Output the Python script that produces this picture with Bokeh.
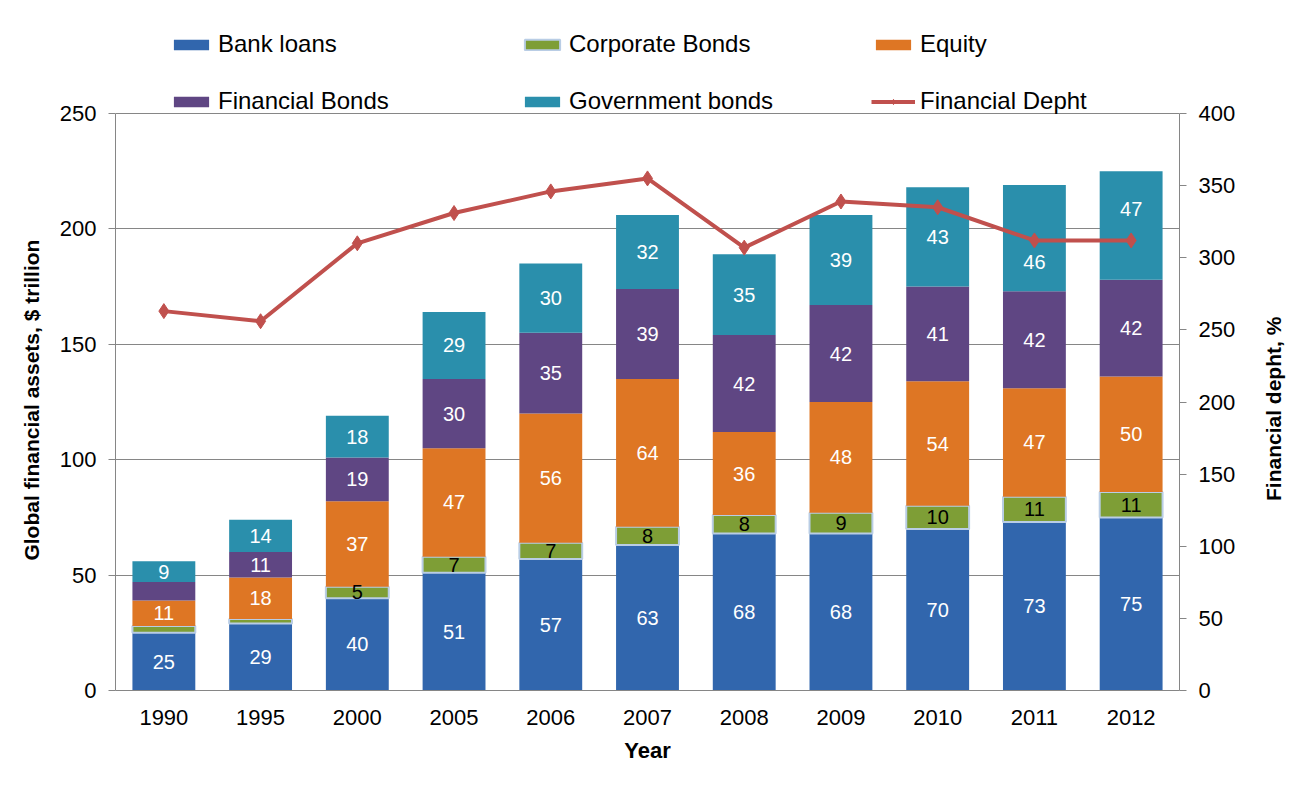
from bokeh.plotting import figure
from bokeh.layouts import row
from bokeh.models import (ColumnDataSource, Range1d, LinearAxis, Legend, LegendItem,
                          FixedTicker, FactorRange, Title)
from bokeh.core.properties import value
from bokeh.embed import file_html
from bokeh.resources import INLINE

years = ["1990", "1995", "2000", "2005", "2006", "2007", "2008", "2009", "2010", "2011", "2012"]
bank_loans = [25, 29, 40, 51, 57, 63, 68, 68, 70, 73, 75]
corporate_bonds = [3, 2, 5, 7, 7, 8, 8, 9, 10, 11, 11]
equity = [11, 18, 37, 47, 56, 64, 36, 48, 54, 47, 50]
financial_bonds = [8, 11, 19, 30, 35, 39, 42, 42, 41, 42, 42]
government_bonds = [9, 14, 18, 29, 30, 32, 35, 39, 43, 46, 47]
financial_depth = [263, 256, 310, 331, 346, 355, 307, 339, 335, 312, 312]

left_ticks = [0, 50, 100, 150, 200, 250]
right_ticks = [0, 50, 100, 150, 200, 250, 300, 350, 400]

# labels shown on the bars ("" = not labelled in the original)
bank_labels = ["25", "29", "40", "51", "57", "63", "68", "68", "70", "73", "75"]
corp_labels = ["", "", "5", "7", "7", "8", "8", "9", "10", "11", "11"]
equity_labels = ["11", "18", "37", "47", "56", "64", "36", "48", "54", "47", "50"]
finb_labels = ["", "11", "19", "30", "35", "39", "42", "42", "41", "42", "42"]
govb_labels = ["9", "14", "18", "29", "30", "32", "35", "39", "43", "46", "47"]
# labels moved by hand in the original (pixels, + = down)
label_nudge = {("govb", "2011"): 24, ("govb", "2012"): -16}

series_names = ["Bank loans", "Corporate Bonds", "Equity", "Financial Bonds", "Government bonds"]
keys = ["bank", "corp", "equity", "finb", "govb"]
colors = ["#3166AD", "#7E9E36", "#DE7624", "#5F4683", "#2A8FAC"]
label_colors = ["white", "black", "white", "white", "white"]
all_vals = [bank_loans, corporate_bonds, equity, financial_bonds, government_bonds]
all_labels = [bank_labels, corp_labels, equity_labels, finb_labels, govb_labels]

FONT = "Liberation Sans"
GRAY = "#868686"

# frame extends above the 250 line to hold the legend
FRAME_TOP, FRAME_BOTTOM, PLOT_TOP = 10, 690, 113
MAIN_W, TITLE_W, H = 1259, 34, 789
scale_ext = (FRAME_BOTTOM - FRAME_TOP) / (FRAME_BOTTOM - PLOT_TOP)
# non-breaking padding recentres the titles on the 0..250 part of the frame
PAD_L = "\u00a0" * 17
PAD_R = "\u00a0" * 20

src = ColumnDataSource(dict(years=years, bank=bank_loans, corp=corporate_bonds, equity=equity,
                            finb=financial_bonds, govb=government_bonds, depth=financial_depth))

p = figure(width=MAIN_W, height=H, x_range=FactorRange(factors=years),
           y_range=Range1d(0, 250 * scale_ext),
           output_backend="svg", toolbar_location=None,
           min_border_left=115, min_border_right=MAIN_W - 1179, min_border_top=FRAME_TOP,
           min_border_bottom=H - FRAME_BOTTOM)
p.extra_y_ranges = {"depth": Range1d(0, 400 * scale_ext)}
p.outline_line_color = None
p.background_fill_color = "white"
p.border_fill_color = "white"
p.x_range.range_padding = 0

renderers = p.vbar_stack(keys, x="years", width=0.65, source=src, color=colors, line_color=None)
renderers[1].glyph.line_color = "#B9CDE5"
renderers[1].glyph.line_width = 2

# labels centred in segments
lx, ly, lt, lc, lo = [], [], [], [], []
base = [0] * len(years)
for key, vals, labs, col in zip(keys, all_vals, all_labels, label_colors):
    for i, (v, t) in enumerate(zip(vals, labs)):
        if t:
            lx.append(years[i]); ly.append(base[i] + v / 2); lt.append(t); lc.append(col)
            lo.append(label_nudge.get((key, years[i]), 0))
        base[i] += v
lsrc = ColumnDataSource(dict(x=lx, y=ly, text=lt, color=lc, off=lo))
p.text(x="x", y="y", text="text", source=lsrc, text_color="color", text_align="center",
       text_baseline="middle", y_offset="off", text_font=value(FONT), text_font_size="20px")

line_r = p.line(x="years", y="depth", source=src, y_range_name="depth", line_color="#C0504D", line_width=4)
mark_r = p.scatter(x="years", y="depth", source=src, y_range_name="depth", marker="diamond",
                   size=15, fill_color="#C0504D", line_color="#C0504D")

# axes
p.yaxis.ticker = FixedTicker(ticks=left_ticks)
p.yaxis.axis_label = "Global financial assets, $ trillion" + PAD_L
p.xaxis.axis_label = "Year"
ax = p.yaxis[0]
ax.bounds = (0, 250)
ax.axis_line_color = GRAY
ax.major_tick_line_color = GRAY
ax.major_tick_out = 7
ax.major_tick_in = 0
ax.minor_tick_line_color = None
ax.major_label_text_font = FONT
ax.major_label_text_font_size = "22px"
ax.major_label_text_color = "black"
ax.major_label_standoff = 12
ax.axis_label_text_font = FONT
ax.axis_label_text_font_size = "21px"
ax.axis_label_text_font_style = "bold"
ax.axis_label_text_color = "black"
ax.axis_label_standoff = 14

ry = LinearAxis(y_range_name="depth", ticker=FixedTicker(ticks=right_ticks))
ry.bounds = (0, 400)
ry.axis_line_color = GRAY
ry.major_tick_line_color = GRAY
ry.major_tick_out = 7
ry.major_tick_in = 0
ry.minor_tick_line_color = None
ry.major_label_text_font = FONT
ry.major_label_text_font_size = "22px"
ry.major_label_text_color = "black"
ry.major_label_standoff = 12
p.add_layout(ry, "right")

xa = p.xaxis[0]
xa.axis_line_color = GRAY
xa.major_tick_line_color = None
xa.minor_tick_line_color = None
xa.major_label_text_font = FONT
xa.major_label_text_font_size = "22px"
xa.major_label_text_color = "black"
xa.major_label_standoff = 13
xa.axis_label_text_font = FONT
xa.axis_label_text_font_size = "22px"
xa.axis_label_text_font_style = "bold"
xa.axis_label_text_color = "black"
xa.axis_label_standoff = 10

p.xgrid.grid_line_color = None
p.ygrid.grid_line_color = GRAY
p.ygrid.grid_line_width = 1
p.ygrid.bounds = (0, 250)

items = [LegendItem(label=n, renderers=[r]) for n, r in zip(series_names, renderers)]
items.append(LegendItem(label="Financial Depht", renderers=[line_r, mark_r]))
legend = Legend(items=items, ncols=3, orientation="horizontal",
                location=(54, FRAME_BOTTOM - PLOT_TOP - 2),
                glyph_width=44, glyph_height=13, label_standoff=5, label_width=273,
                label_height=24, spacing=29, padding=0, margin=0, border_line_color=None,
                background_fill_alpha=0,
                label_text_font=FONT, label_text_font_size="24px", label_text_color="black")
p.add_layout(legend, "center")

# right-hand axis title (reads bottom-to-top, like the original)
p2 = figure(width=TITLE_W, height=H, x_range=Range1d(0, 1), y_range=Range1d(0, 1),
            output_backend="svg", toolbar_location=None,
            x_axis_location=None, y_axis_location=None,
            min_border_left=0, min_border_right=0, min_border_top=FRAME_TOP,
            min_border_bottom=H - FRAME_BOTTOM)
p2.outline_line_color = None
p2.background_fill_color = "white"
p2.border_fill_color = "white"
p2.grid.grid_line_color = None
p2.add_layout(Title(text="Financial depht, %" + PAD_R, align="center", standoff=0, offset=0,
                    text_font=FONT, text_font_size="21px", text_font_style="bold",
                    text_color="black"), "left")

for fig in (p, p2):
    try:
        fig.frame_align = False
    except Exception:
        pass

layout = row(p, p2, spacing=0)
open("out.html", "w").write(file_html(layout, INLINE))
